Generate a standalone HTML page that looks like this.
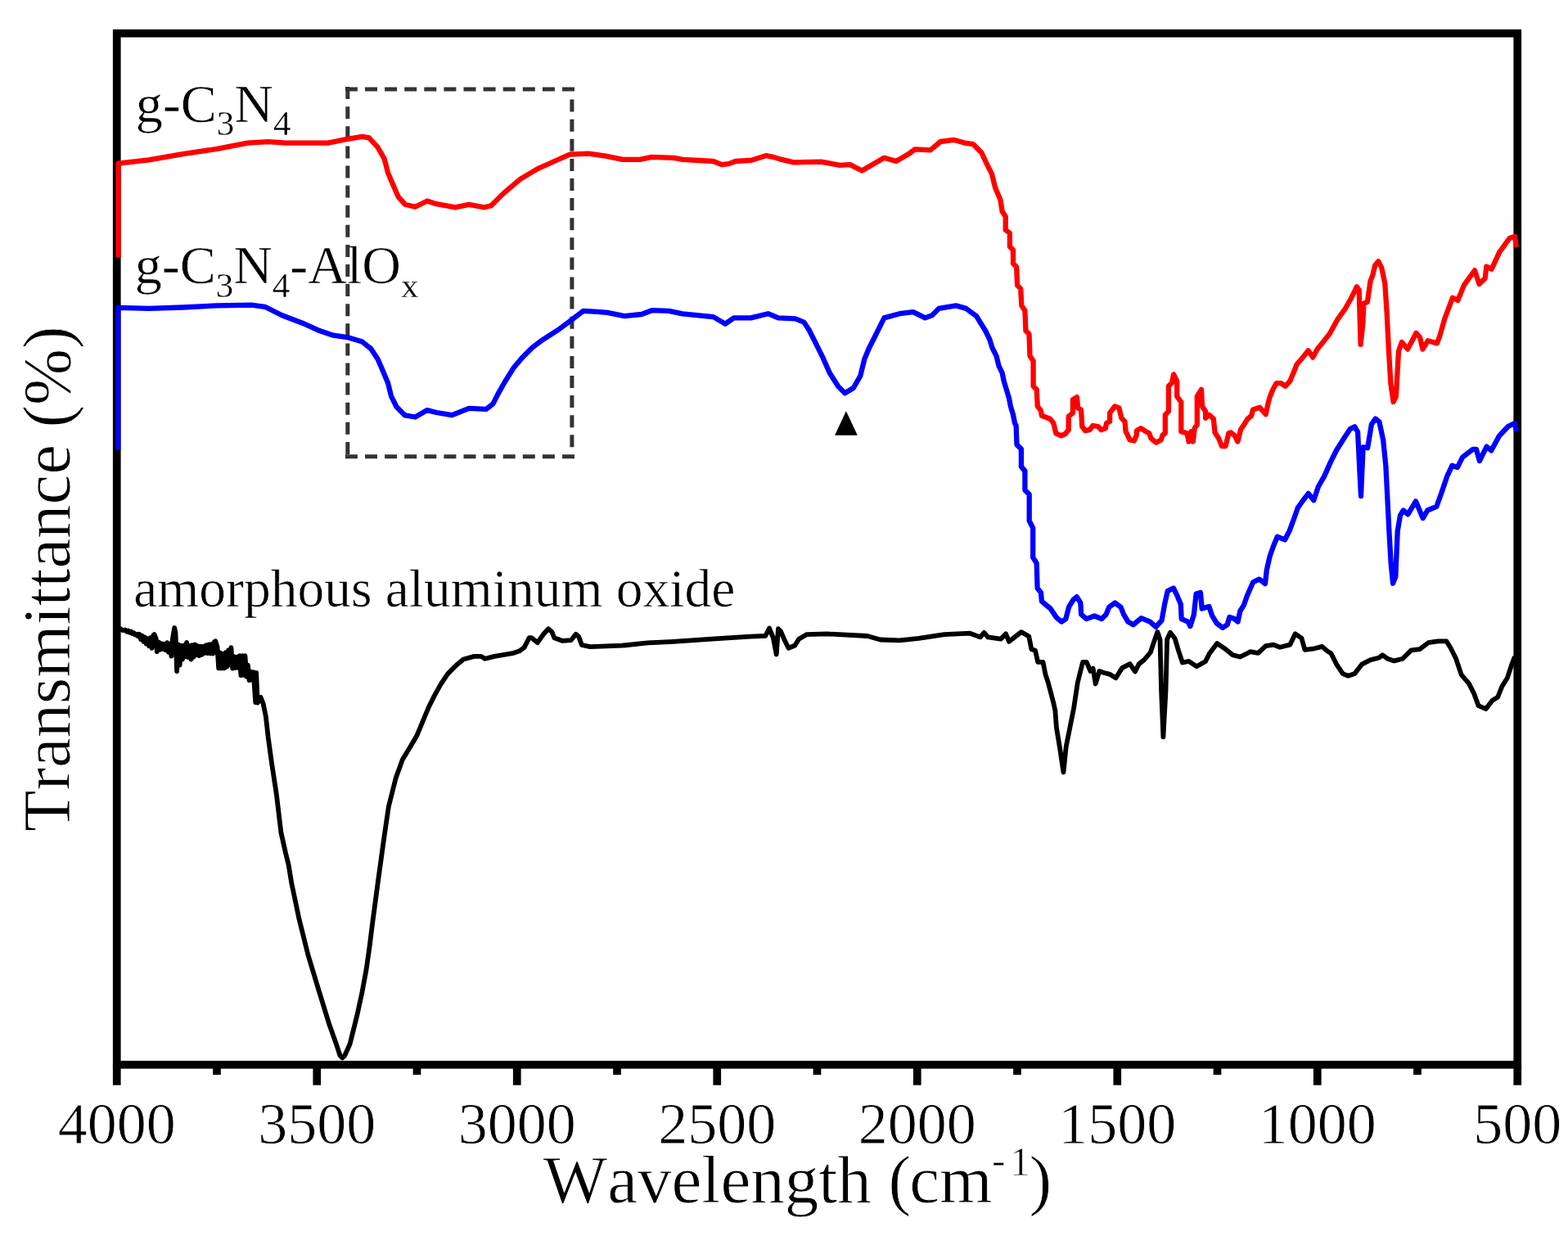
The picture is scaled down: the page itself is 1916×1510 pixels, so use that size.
<!DOCTYPE html><html><head><meta charset="utf-8"><title>FTIR spectra</title>
<style>html,body{margin:0;padding:0;background:#fff;}svg{display:block;}text{font-family:"Liberation Serif","Times New Roman",serif;fill:#000;font-kerning:none;font-feature-settings:"kern" 0;}</style></head><body>
<svg width="1916" height="1510" viewBox="0 0 1916 1510">
<rect x="0" y="0" width="1916" height="1510" fill="#fff"/>
<g stroke="#fff" stroke-width="0.80">
<text x="142.75" y="1397.3" font-size="72.0" text-anchor="middle">4000</text>
<text x="387.25" y="1397.3" font-size="72.0" text-anchor="middle">3500</text>
<text x="631.75" y="1397.3" font-size="72.0" text-anchor="middle">3000</text>
<text x="876.25" y="1397.3" font-size="72.0" text-anchor="middle">2500</text>
<text x="1120.75" y="1397.3" font-size="72.0" text-anchor="middle">2000</text>
<text x="1365.25" y="1397.3" font-size="72.0" text-anchor="middle">1500</text>
<text x="1609.75" y="1397.3" font-size="72.0" text-anchor="middle">1000</text>
<text x="1854.25" y="1397.3" font-size="72.0" text-anchor="middle">500</text>
<text x="663.8" y="1469.4" font-size="83.0">Wavelength (</text>
<text x="1111.2" y="1469.4" font-size="83.0">cm</text>
<text x="1212.0" y="1433.6" font-size="50.0">-</text>
<text x="1234.1" y="1435.6" font-size="50.0">1</text>
<text x="1257.6" y="1469.4" font-size="83.0">)</text>
<text transform="translate(85.4,1016.1) rotate(-90)" x="0" y="0" font-size="82.7">Transmittance (%)</text>
<text x="165.8" y="148.8" font-size="66.0" stroke-width="0.55">g-C<tspan font-size="43.0" dy="16.2" stroke-width="0.3">3</tspan><tspan dy="-16.2">N</tspan><tspan font-size="43.0" dy="16.2" stroke-width="0.3">4</tspan></text>
<text x="164.7" y="346.4" font-size="66.0" stroke-width="0.55">g-C<tspan font-size="43.0" dy="16.2" stroke-width="0.3">3</tspan><tspan dy="-16.2">N</tspan><tspan font-size="43.0" dy="16.2" stroke-width="0.3">4</tspan><tspan dy="-16.2">-AlO</tspan><tspan font-size="43.0" dy="16.2" stroke-width="0.3">x</tspan></text>
<text x="163.3" y="740.7" font-size="65.5" stroke-width="0.6">amorphous aluminum oxide</text>
</g>
<g stroke="#333" stroke-width="5.0" fill="none" stroke-dasharray="15 9.1">
<line x1="421.9" y1="109.1" x2="704" y2="109.1"/>
<line x1="421.9" y1="557.7" x2="704" y2="557.7"/>
<line x1="424.8" y1="106.1" x2="424.8" y2="561"/>
<line x1="698.9" y1="121.6" x2="698.9" y2="553"/>
</g>
<g stroke="#000" stroke-width="9.70" fill="none">
<rect x="142.75" y="40.75" width="1711.50" height="1260.00" stroke-linejoin="miter"/>
<line x1="142.75" y1="1300.75" x2="142.75" y2="1325.70"/>
<line x1="387.25" y1="1300.75" x2="387.25" y2="1325.70"/>
<line x1="631.75" y1="1300.75" x2="631.75" y2="1325.70"/>
<line x1="876.25" y1="1300.75" x2="876.25" y2="1325.70"/>
<line x1="1120.75" y1="1300.75" x2="1120.75" y2="1325.70"/>
<line x1="1365.25" y1="1300.75" x2="1365.25" y2="1325.70"/>
<line x1="1609.75" y1="1300.75" x2="1609.75" y2="1325.70"/>
<line x1="1854.25" y1="1300.75" x2="1854.25" y2="1325.70"/>
<line x1="265.00" y1="1300.75" x2="265.00" y2="1313.00"/>
<line x1="509.50" y1="1300.75" x2="509.50" y2="1313.00"/>
<line x1="754.00" y1="1300.75" x2="754.00" y2="1313.00"/>
<line x1="998.50" y1="1300.75" x2="998.50" y2="1313.00"/>
<line x1="1243.00" y1="1300.75" x2="1243.00" y2="1313.00"/>
<line x1="1487.50" y1="1300.75" x2="1487.50" y2="1313.00"/>
<line x1="1732.00" y1="1300.75" x2="1732.00" y2="1313.00"/>
</g>
<g fill="none" stroke-width="6.3" stroke-linejoin="round" stroke-linecap="butt">
<polyline stroke="#000" stroke-width="5.8" points="146.0,767.5 150.0,770.2 153.0,769.5 155.0,771.7 156.7,770.6 158.4,772.7 160.1,771.6 161.8,774.0 163.5,773.2 165.2,775.6 166.9,774.8 168.6,777.2 170.3,774.8 172.0,781.0 173.7,776.6 175.4,783.8 177.1,778.4 178.8,786.6 180.5,780.2 182.2,789.4 183.9,779.1 185.6,791.8 187.3,776.1 188.6,775.0 190.7,780.3 191.8,796.1 194.1,784.6 195.8,793.7 197.5,786.3 199.2,792.9 200.9,786.8 202.6,794.3 204.3,785.1 206.0,796.9 207.7,786.4 209.4,801.7 211.1,779.2 213.2,767.0 214.5,773.0 216.1,820.0 217.9,787.5 219.6,812.6 221.3,788.6 223.0,805.5 224.7,788.3 226.4,802.2 228.1,784.8 229.8,803.0 231.5,788.9 233.5,805.6 234.9,788.2 236.6,802.8 238.3,787.5 240.0,800.2 241.7,789.2 243.4,801.2 245.1,789.6 246.8,799.8 248.5,789.8 250.2,797.9 251.9,788.3 253.6,798.1 255.3,787.4 257.0,798.3 258.7,787.0 260.4,798.5 262.1,784.1 263.2,783.2 265.5,790.1 267.2,816.4 268.9,797.5 270.6,816.4 272.3,798.8 274.0,816.4 275.7,797.2 277.4,814.6 279.1,794.5 280.8,811.9 282.4,791.1 284.2,816.6 285.9,802.1 287.6,815.8 289.3,802.6 291.0,815.8 292.7,801.2 294.4,825.0 296.1,801.1 297.8,824.6 299.5,801.1 301.2,826.6 302.9,812.7 304.6,831.2 306.3,820.6 308.0,830.5 309.7,821.1 312.2,858.1 313.1,822.0 314.8,858.7 318.5,851.8 321.6,859.6 324.8,875.0 327.7,900.8 332.1,932.9 337.9,970.8 343.4,1017.0 349.0,1042.0 352.6,1056.5 356.2,1078.5 365.4,1122.3 376.3,1166.1 387.3,1202.7 401.9,1250.2 411.0,1275.8 415.5,1289.5 418.4,1292.5 421.0,1290.0 427.5,1275.8 436.6,1239.2 442.5,1212.0 447.6,1184.4 451.5,1157.0 454.9,1129.6 458.6,1102.0 462.2,1074.8 469.5,1022.0 474.9,985.4 483.7,950.4 491.7,928.3 500.5,913.7 509.2,899.1 516.5,881.5 523.8,864.0 531.1,849.4 538.5,836.2 547.2,823.1 557.5,812.8 566.2,805.5 579.4,801.9 588.1,801.9 592.5,804.8 604.2,801.9 626.1,798.2 634.9,795.3 640.7,790.9 646.6,779.2 649.5,779.2 656.8,785.1 664.1,774.8 670.0,768.3 674.4,771.9 677.3,779.2 687.5,782.9 697.7,782.2 703.6,774.8 707.2,777.8 710.9,788.0 721.1,790.2 760.0,788.7 791.3,785.4 822.6,783.8 869.6,780.7 916.6,777.6 935.4,776.8 940.0,767.4 944.8,779.1 948.7,799.5 951.0,768.2 954.1,771.3 958.8,782.3 963.5,791.7 971.4,788.5 976.1,780.7 985.5,775.2 1010.5,774.4 1060.0,777.0 1075.7,781.5 1099.1,782.3 1122.6,779.9 1153.9,775.2 1185.3,773.7 1197.8,778.4 1202.5,772.9 1207.2,778.4 1222.8,780.7 1229.1,774.4 1233.0,783.8 1247.9,772.1 1257.3,777.6 1260.4,793.2 1265.1,794.8 1268.2,808.9 1274.5,808.9 1277.6,824.5 1280.8,833.9 1287.0,857.4 1289.4,868.4 1290.9,888.7 1294.8,912.2 1299.5,943.5 1302.7,912.2 1307.4,888.7 1312.1,865.3 1316.8,833.9 1323.1,808.9 1327.7,808.9 1332.4,819.9 1335.6,816.7 1338.7,835.5 1343.4,819.9 1349.4,822.0 1355.7,823.6 1363.5,828.3 1371.3,815.8 1380.7,811.1 1387.0,820.5 1391.7,811.1 1397.9,806.4 1405.8,797.0 1410.5,782.9 1414.4,771.9 1417.5,781.3 1419.1,843.9 1421.4,900.3 1424.5,843.9 1426.1,781.3 1430.0,772.7 1435.5,779.7 1440.2,795.4 1444.9,809.5 1452.7,807.9 1462.1,814.2 1473.1,807.9 1477.8,798.5 1487.2,786.0 1496.6,792.3 1506.0,800.1 1515.4,802.5 1527.9,796.2 1537.3,797.8 1546.7,789.1 1556.1,787.6 1563.9,790.7 1576.4,787.6 1582.7,774.3 1590.5,779.7 1594.4,793.8 1606.2,792.3 1615.6,789.9 1621.8,795.4 1626.5,798.3 1633.0,811.3 1640.9,823.1 1647.4,825.7 1655.2,823.1 1664.4,811.3 1674.8,806.1 1685.2,803.5 1689.2,800.2 1695.7,804.8 1703.5,807.4 1713.9,804.8 1724.4,794.4 1734.8,793.1 1745.3,785.2 1757.0,783.3 1767.4,783.3 1772.7,791.8 1779.2,804.8 1785.7,824.4 1794.8,834.8 1801.4,847.9 1806.6,862.2 1815.7,866.1 1823.5,855.7 1830.1,851.8 1835.3,838.7 1841.8,828.3 1847.0,812.6 1850.9,802.2"/>
<polyline stroke="#0000ff" points="144.2,549.2 144.2,375.9 181.8,376.9 223.5,375.5 265.3,373.4 307.0,372.7 323.7,374.8 344.6,385.3 369.6,394.7 390.5,404.1 407.2,409.7 426.0,412.4 442.7,417.6 453.2,426.0 461.5,438.5 467.8,453.1 474.0,467.7 478.2,484.4 484.5,497.0 494.9,507.4 507.4,509.5 522.0,501.1 533.4,504.0 552.2,507.2 573.0,498.8 593.9,499.9 602.3,493.6 608.6,481.1 616.9,466.5 627.3,449.8 637.8,437.2 650.3,424.7 662.8,415.3 683.7,401.8 696.2,392.4 712.9,379.8 729.6,380.9 742.2,381.9 763.0,386.1 783.9,384.0 796.5,379.2 817.3,379.8 834.0,383.4 871.6,387.1 884.1,394.4 886.3,395.7 896.7,388.4 917.6,388.4 938.5,383.2 951.0,388.4 971.9,389.4 982.3,393.6 988.6,403.0 996.9,419.7 1005.3,436.4 1013.6,455.2 1024.1,471.9 1032.4,480.3 1042.8,474.0 1051.2,459.4 1056.4,438.5 1061.6,426.0 1067.9,413.5 1074.2,400.9 1080.4,388.4 1099.2,383.2 1115.9,381.1 1130.5,388.4 1138.9,385.3 1147.2,376.9 1168.1,373.4 1180.6,376.9 1193.2,386.3 1204.1,404.0 1209.2,414.3 1212.3,424.5 1217.5,434.8 1220.5,447.1 1224.6,455.3 1226.7,465.6 1229.8,475.9 1232.9,486.1 1234.9,496.4 1238.0,506.7 1240.0,516.9 1241.6,520.0 1242.5,543.2 1247.9,548.6 1247.9,570.1 1252.4,575.4 1252.4,598.7 1257.7,604.0 1257.7,636.2 1262.2,645.2 1262.2,680.9 1266.7,688.1 1267.6,718.5 1272.0,723.9 1272.9,734.6 1283.6,743.5 1290.8,754.3 1297.1,759.6 1302.4,756.1 1306.0,741.7 1311.4,732.8 1315.8,729.2 1320.3,736.4 1321.2,750.7 1327.5,756.1 1337.3,752.5 1346.2,756.1 1351.6,750.7 1355.2,741.7 1362.3,736.4 1369.5,741.7 1373.1,750.7 1378.4,759.6 1384.7,763.2 1394.5,755.2 1405.3,759.6 1412.4,765.9 1419.6,757.8 1423.1,738.2 1426.7,722.1 1433.9,718.5 1438.3,727.4 1442.8,738.2 1443.7,756.1 1451.7,759.6 1454.4,765.0 1458.9,750.7 1461.6,725.6 1466.9,723.9 1468.7,743.5 1477.4,741.0 1481.1,752.1 1486.7,761.4 1494.1,766.9 1499.7,763.2 1502.4,753.9 1508.0,755.8 1512.6,759.5 1515.4,746.5 1520.0,739.1 1523.8,728.0 1531.2,711.3 1538.6,707.6 1546.0,713.2 1547.8,696.5 1551.6,679.8 1556.2,666.8 1560.8,655.7 1570.1,659.4 1575.7,648.3 1581.2,633.5 1585.8,620.5 1592.3,611.2 1598.8,602.9 1605.3,611.2 1610.9,594.5 1618.3,581.6 1625.7,564.9 1633.1,550.0 1642.4,535.2 1649.8,524.1 1655.4,521.3 1659.1,527.8 1660.9,564.9 1663.0,606.0 1665.6,546.3 1671.1,547.2 1675.9,518.6 1680.7,511.5 1685.4,515.4 1690.2,537.7 1693.4,569.5 1695.0,601.3 1697.4,649.0 1699.7,688.7 1702.1,712.6 1705.3,704.6 1707.7,649.0 1710.9,629.9 1714.8,623.5 1720.4,628.3 1730.0,612.4 1734.7,623.5 1738.7,633.1 1744.3,623.5 1755.4,618.8 1761.7,601.3 1768.1,582.2 1774.5,568.7 1780.8,571.1 1787.2,558.4 1799.9,548.8 1803.9,548.8 1807.9,563.1 1812.6,553.6 1816.6,545.6 1822.2,550.4 1831.7,532.9 1842.8,521.0 1850.8,517.0 1853.2,526.6"/>
<polyline stroke="#ff0000" points="144.5,314.5 144.5,199.6 181.8,195.4 223.5,188.1 265.3,181.9 302.8,174.6 327.9,173.1 348.8,174.6 401.0,174.6 421.8,170.4 442.7,166.8 451.0,168.3 461.5,179.8 469.8,194.4 474.0,211.0 480.3,225.7 486.6,240.3 494.9,249.7 507.4,252.8 522.0,245.5 533.4,249.2 556.4,253.3 573.0,249.8 591.9,253.3 600.2,251.3 614.8,236.6 635.7,218.9 656.6,206.4 677.5,197.0 696.2,188.6 719.2,187.6 740.1,190.7 761.0,194.9 781.8,194.9 796.5,191.8 823.6,192.8 834.0,194.9 871.6,197.0 882.0,201.1 890.4,200.1 898.8,197.0 917.6,195.9 936.4,190.1 944.7,191.8 955.2,194.9 969.8,198.4 1003.2,197.6 1026.1,201.8 1038.7,201.1 1053.3,208.5 1067.9,200.1 1080.4,192.8 1095.0,197.0 1109.6,188.6 1118.0,182.4 1136.8,183.4 1149.3,173.0 1166.0,170.9 1178.5,174.6 1189.0,176.1 1199.4,186.5 1205.7,200.1 1212.0,212.6 1216.1,229.3 1222.4,243.9 1224.6,258.2 1228.7,264.4 1228.7,280.8 1233.9,284.9 1233.9,301.3 1238.0,305.4 1238.0,321.9 1242.1,326.0 1243.1,348.6 1247.2,352.7 1248.3,373.2 1252.4,379.4 1253.4,404.0 1257.5,408.1 1258.5,434.8 1262.6,441.0 1262.6,471.8 1266.7,475.9 1267.8,496.4 1271.9,501.5 1272.9,507.7 1283.2,511.8 1287.3,516.9 1290.3,529.3 1296.5,532.3 1301.6,530.3 1305.7,525.2 1305.7,508.7 1310.9,504.6 1310.9,488.2 1316.0,485.1 1317.0,498.5 1321.1,500.5 1322.2,521.0 1326.3,526.2 1331.4,525.2 1335.5,520.0 1341.7,521.0 1345.8,525.2 1350.9,523.1 1352.0,517.0 1356.1,514.9 1356.1,504.6 1362.2,496.4 1367.4,498.5 1370.4,510.8 1374.5,514.9 1375.6,527.2 1380.7,537.5 1385.8,538.5 1388.9,531.3 1388.9,526.2 1394.0,523.1 1400.2,527.2 1404.3,529.3 1406.4,535.4 1412.5,540.6 1418.7,537.5 1420.7,531.3 1423.8,529.3 1423.8,506.7 1427.9,502.6 1427.9,471.8 1432.0,467.7 1434.1,457.4 1438.2,465.6 1438.2,484.1 1443.3,491.3 1443.3,527.2 1450.5,529.3 1452.6,539.5 1455.6,527.2 1457.7,539.5 1459.8,523.1 1462.8,519.0 1462.8,484.1 1468.0,475.9 1469.0,496.4 1473.1,502.6 1473.1,510.8 1477.2,506.7 1482.8,511.7 1484.6,528.4 1489.3,535.8 1493.0,545.1 1497.6,545.1 1501.3,529.3 1504.1,528.4 1508.7,532.1 1512.4,539.5 1516.1,524.7 1519.9,519.1 1524.5,511.7 1529.1,508.0 1531.0,500.6 1539.3,497.8 1546.7,506.1 1549.5,493.2 1551.4,485.7 1555.1,476.5 1559.7,468.1 1565.3,468.1 1570.8,471.8 1576.4,465.4 1581.0,454.2 1584.7,445.0 1591.2,437.6 1598.6,428.3 1604.2,436.6 1609.7,426.4 1617.2,417.2 1624.6,407.9 1633.8,391.2 1643.1,378.2 1650.5,365.3 1657.9,350.4 1660.7,354.1 1662.6,420.9 1665.4,394.9 1666.3,370.8 1670.9,369.0 1674.6,343.0 1677.2,336.8 1680.3,324.1 1684.3,319.3 1688.3,327.2 1692.3,346.3 1694.6,381.3 1697.0,429.0 1699.4,468.7 1702.6,491.0 1705.8,484.6 1709.0,429.0 1712.9,417.9 1720.1,426.6 1725.6,416.3 1730.4,406.7 1735.2,412.3 1738.4,426.6 1744.7,416.3 1755.9,419.4 1759.0,411.5 1765.4,389.2 1774.9,363.8 1781.3,367.0 1789.2,347.9 1802.0,330.4 1807.5,347.1 1814.7,340.0 1816.3,325.6 1822.6,328.8 1832.2,308.2 1844.9,290.7 1851.2,289.1 1852.8,301.8"/>
</g>
<polygon points="1033.9,502.2 1047.8,531.7 1020.1,531.7" fill="#000"/>
</svg></body></html>
